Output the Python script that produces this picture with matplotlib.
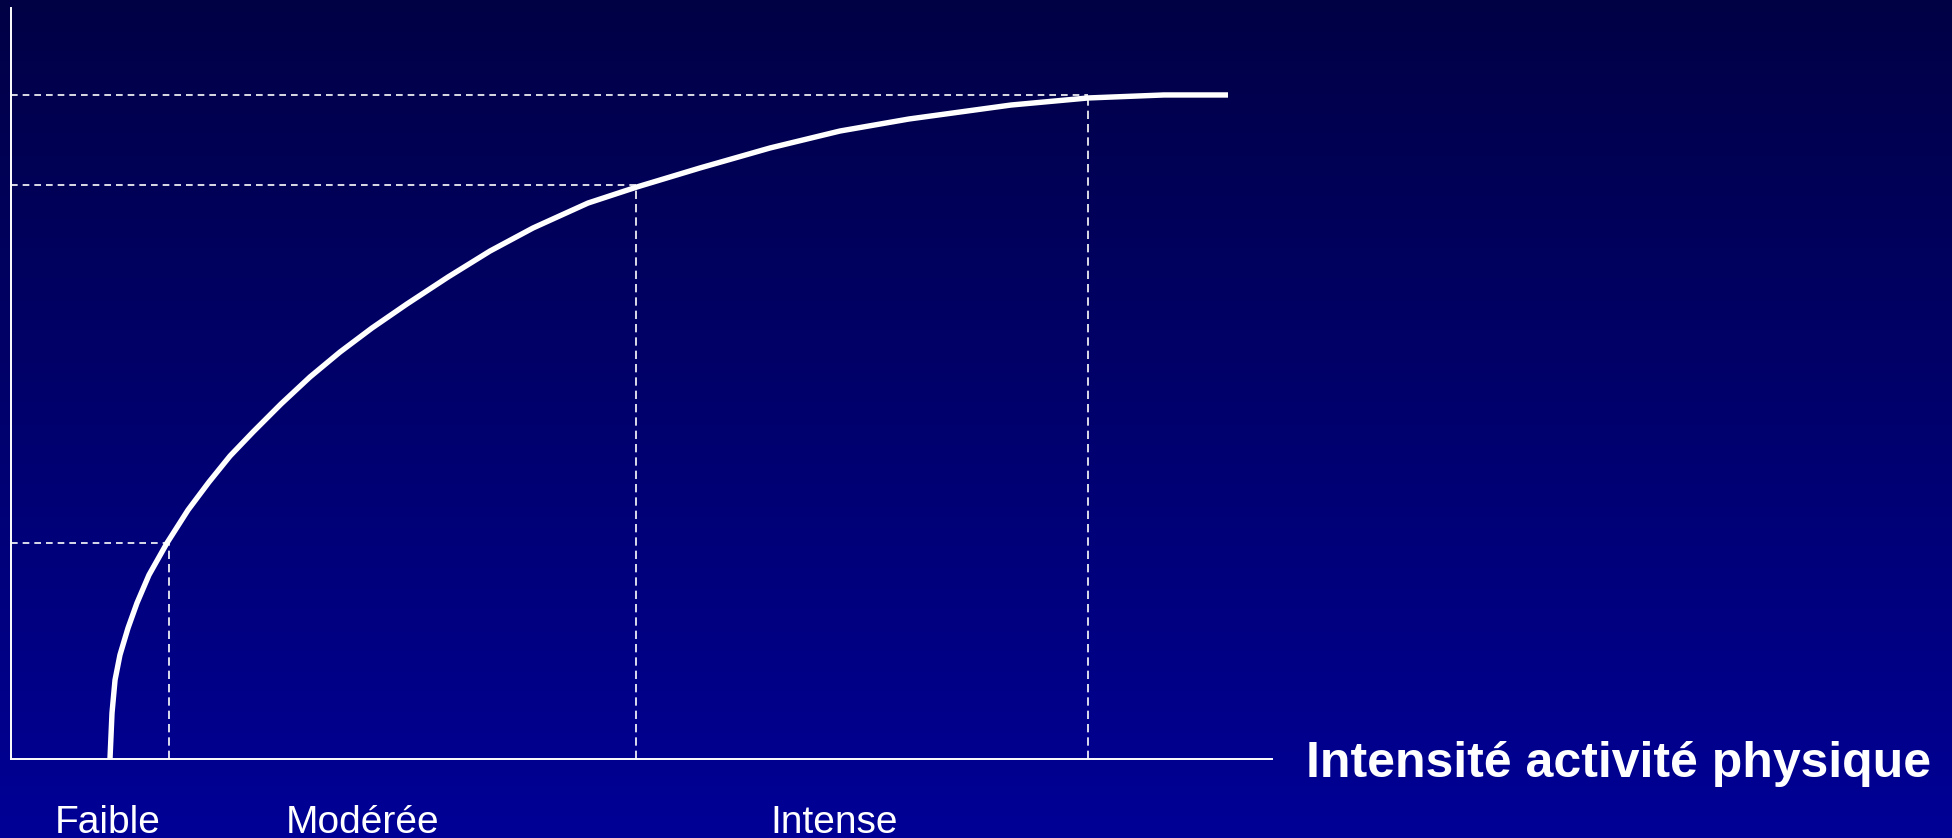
import numpy as np
import matplotlib.pyplot as plt

# curve (intensity 0-100, response 0-100)
curve_x = [7.85, 8.01, 8.25, 8.64, 9.28, 9.99, 10.94, 12.37, 14.04, 15.70, 17.37,
           19.19, 21.41, 23.71, 26.09, 28.63, 31.40, 34.66, 37.99, 41.40, 45.76,
           49.64, 54.64, 60.19, 65.74, 71.21, 79.30, 85.41, 91.43, 96.51]
curve_y = [0.0, 6.13, 10.52, 13.85, 17.44, 20.77, 24.50, 28.76, 33.16, 36.88, 40.35,
           43.54, 47.27, 50.87, 54.19, 57.39, 60.59, 64.18, 67.64, 70.71, 74.03,
           76.17, 78.70, 81.36, 83.62, 85.22, 87.08, 88.02, 88.42, 88.42]

# thresholds marked with dashed guides
guide_x = [12.5, 49.6, 85.4]
guide_y = [28.8, 76.4, 88.4]

zone_labels = ["Faible", "Modérée", "Intense"]
zone_x = [7.7, 27.9, 65.3]
xlabel = "Intensité activité physique"

fig = plt.figure(figsize=(19.52, 8.38), dpi=100)

# gradient background
bg = fig.add_axes([0, 0, 1, 1], zorder=-1)
grad = np.linspace(0, 1, 256).reshape(-1, 1)
top = np.array([0x00, 0x00, 0x45]) / 255
bot = np.array([0x00, 0x00, 0x96]) / 255
img = top + (bot - top) * grad[..., None]
bg.imshow(img, aspect="auto", extent=[0, 1, 0, 1], origin="upper")
bg.axis("off")

ax = fig.add_axes([11 / 1952, 1 - 759 / 838, 1261 / 1952, 751 / 838])
ax.set_facecolor("none")
ax.set_xlim(0, 100)
ax.set_ylim(0, 100)

for s in ["top", "right"]:
    ax.spines[s].set_visible(False)
for s in ["left", "bottom"]:
    ax.spines[s].set_color("white")
    ax.spines[s].set_linewidth(1.4)
ax.set_xticks([])
ax.set_yticks([])

for gx, gy in zip(guide_x, guide_y):
    ax.plot([0, gx], [gy, gy], color="white", lw=1.2, ls=(0, (4, 3)))
    ax.plot([gx, gx], [0, gy], color="white", lw=1.2, ls=(0, (5, 3)))

ax.plot(curve_x, curve_y, color="white", lw=3.9, solid_capstyle="butt",
        solid_joinstyle="round")

for lab, lx in zip(zone_labels, zone_x):
    ax.text(lx, -9.85, lab, ha="center", va="baseline", color="white",
            fontsize=28, family="Liberation Sans", clip_on=False)

ax.text(102.7, -2.4, xlabel, ha="left", va="baseline", color="white",
        fontsize=36, fontweight="bold", family="Liberation Sans", clip_on=False)

fig.savefig("out.png", dpi=100)
